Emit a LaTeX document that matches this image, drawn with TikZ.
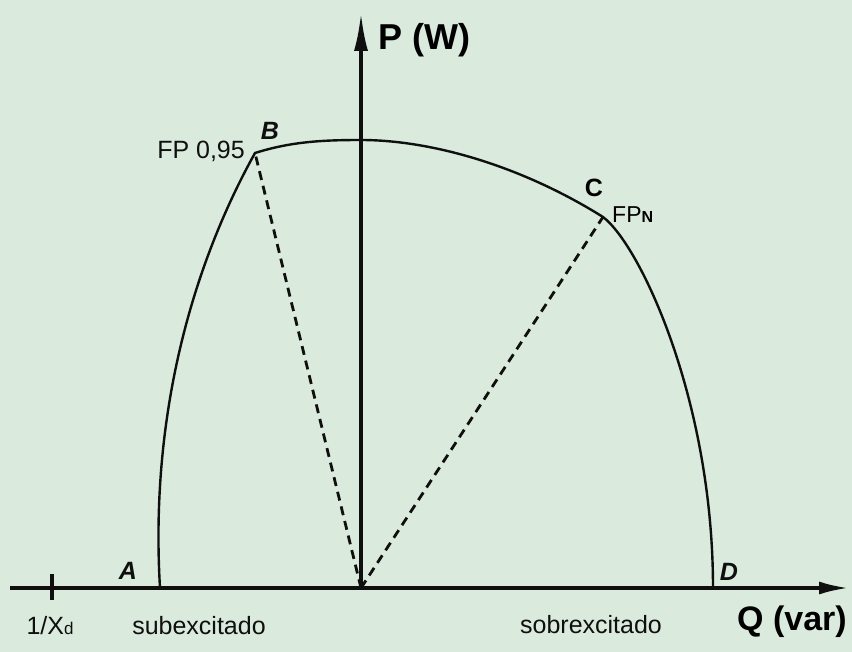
\documentclass[tikz,border=0pt]{standalone}
\usepackage{fontspec}
\setmainfont{Liberation Sans}
\usepackage{tikz}
\usetikzlibrary{arrows.meta,positioning,calc}
\definecolor{paperMint}{RGB}{218,234,220}
\definecolor{inkBlack}{RGB}{15,15,15}
\newcommand{\fs}[1]{\fontsize{#1}{#1}\selectfont}

\begin{document}
\begin{tikzpicture}[x=1pt,y=-1pt,
  axis/.style={line width=3.6pt,inkBlack},
  limit/.style={line width=2.4pt,inkBlack},
  pfline/.style={line width=2.8pt,inkBlack,dash pattern=on 9pt off 6pt},
  ptlabel/.style={font=\fs{25}\bfseries\itshape,inner sep=0pt,inkBlack},
  txt/.style={font=\fs{25},inner sep=0pt,inkBlack}]
  \fill[paperMint] (0,0) rectangle (852,652);
  \useasboundingbox (0,0) rectangle (852,652);
  \coordinate (O) at (361,588);
  \coordinate (A) at (160,588);
  \coordinate (B) at (255,153);
  \coordinate (top) at (361,140);
  \coordinate (C) at (603,217);
  \coordinate (D) at (713,588);
  \coordinate (qstart) at (10,588);
  \coordinate (qend) at (849,588);
  \coordinate (pend) at (361,13);
  \coordinate (xd) at (52,588);
  \draw[limit] (A) .. controls (150,420) and (190,270) .. (B)
    .. controls (290,142) and (320,140) .. (top)
    .. controls (430,140) and (520,165) .. (C)
    .. controls (640,245) and (713,400) .. (D);
  \draw[pfline] (O) -- (B);
  \draw[pfline] (O) -- (C);
  \draw[axis,-{Latex[length=30pt,width=13pt]}] (qstart) -- (qend);
  \draw[axis,-{Latex[length=38pt,width=14pt]}] (O) -- (pend);
  \draw[line width=3.2pt,inkBlack] ($(xd)+(0,-14)$) -- ($(xd)+(0,12)$);
  \node[font=\fs{36}\bfseries,anchor=west,inner sep=0pt] (lblP) at (378,40) {P (W)};
  \node[font=\fs{34}\bfseries,inner sep=0pt] (lblQ) at (792,622) {Q (var)};
  \node[txt,anchor=east] (fp95) at (245,151) {FP 0,95};
  \node[ptlabel] (lblB) at (270,131) {B};
  \node[font=\fs{25}\bfseries,inner sep=0pt] (lblC) at (594,188) {C};
  \node[font=\fs{23},anchor=west,inner sep=0pt] (fpn) at (612,215) {FP{\fs{16}\bfseries N}};
  \node[ptlabel] (lblA) at (128,571) {A};
  \node[ptlabel] (lblD) at (729,572) {D};
  \node[txt] (xdlbl) at (50,626) {1/X{\fs{17}d}};
  \node[txt] (sub) at (199,626) {subexcitado};
  \node[txt] (sobre) at (591,625) {sobrexcitado};
\end{tikzpicture}
\end{document}
